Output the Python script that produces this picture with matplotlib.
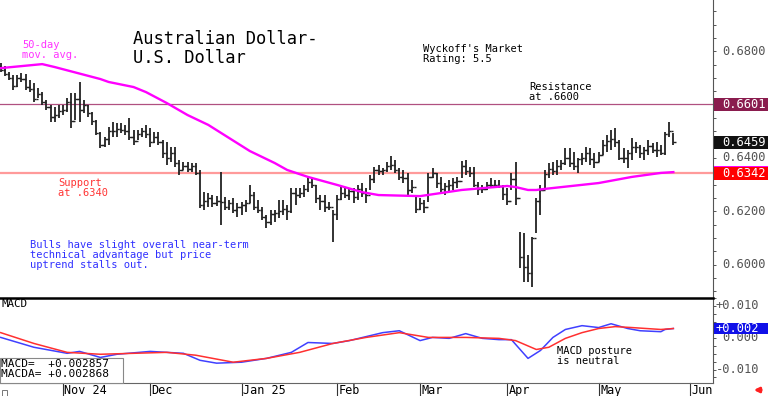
import numpy as np
import pandas as pd
import matplotlib
matplotlib.use("Agg")
import matplotlib.pyplot as plt
from matplotlib.patches import Rectangle
import matplotlib.transforms as mtransforms

# ---------------- data ----------------
start_date = "2024-10-11"
highs = [0.6756, 0.6745, 0.6722, 0.6711, 0.6711, 0.6719, 0.6715, 0.6692, 0.6681, 0.6662,
         0.6647, 0.6617, 0.6599, 0.6591, 0.6599, 0.6599, 0.6625, 0.6644, 0.6644, 0.6685,
         0.6617, 0.6599, 0.6572, 0.6542, 0.6497, 0.6479, 0.6516, 0.6535, 0.6531, 0.6531,
         0.6524, 0.6550, 0.6505, 0.6505, 0.6512, 0.6524, 0.6512, 0.6497, 0.6497, 0.6467,
         0.6460, 0.6441, 0.6441, 0.6392, 0.6385, 0.6385, 0.6381, 0.6381, 0.6355, 0.6272,
         0.6269, 0.6261, 0.6257, 0.6347, 0.6254, 0.6242, 0.6250, 0.6231, 0.6235, 0.6242,
         0.6299, 0.6272, 0.6242, 0.6216, 0.6186, 0.6205, 0.6205, 0.6242, 0.6242, 0.6224,
         0.6287, 0.6287, 0.6287, 0.6299, 0.6329, 0.6325, 0.6299, 0.6261, 0.6261, 0.6235,
         0.6205, 0.6261, 0.6291, 0.6287, 0.6287, 0.6287, 0.6299, 0.6306, 0.6287, 0.6336,
         0.6366, 0.6374, 0.6362, 0.6385, 0.6407, 0.6392, 0.6362, 0.6355, 0.6344, 0.6317,
         0.6254, 0.6250, 0.6242, 0.6344, 0.6362, 0.6344, 0.6329, 0.6306, 0.6317, 0.6325,
         0.6329, 0.6389, 0.6392, 0.6366, 0.6366, 0.6310, 0.6299, 0.6310, 0.6325, 0.6317,
         0.6317, 0.6299, 0.6287, 0.6344, 0.6385, 0.6122, 0.6119, 0.6036, 0.6104, 0.6250,
         0.6299, 0.6355, 0.6381, 0.6385, 0.6392, 0.6392, 0.6437, 0.6437, 0.6422, 0.6400,
         0.6419, 0.6441, 0.6437, 0.6419, 0.6422, 0.6467, 0.6486, 0.6505, 0.6512, 0.6467,
         0.6437, 0.6430, 0.6475, 0.6460, 0.6449, 0.6441, 0.6467, 0.6456, 0.6460, 0.6449,
         0.6497, 0.6535, 0.6494]
lows = [0.6722, 0.6707, 0.6692, 0.6655, 0.6666, 0.6685, 0.6655, 0.6647, 0.6610, 0.6625,
        0.6599, 0.6580, 0.6535, 0.6535, 0.6550, 0.6561, 0.6572, 0.6512, 0.6542, 0.6535,
        0.6569, 0.6554, 0.6524, 0.6486, 0.6437, 0.6441, 0.6449, 0.6479, 0.6479, 0.6494,
        0.6486, 0.6467, 0.6449, 0.6467, 0.6479, 0.6475, 0.6441, 0.6456, 0.6449, 0.6400,
        0.6374, 0.6385, 0.6366, 0.6336, 0.6355, 0.6347, 0.6347, 0.6336, 0.6212, 0.6205,
        0.6216, 0.6216, 0.6220, 0.6149, 0.6205, 0.6205, 0.6194, 0.6179, 0.6186, 0.6197,
        0.6231, 0.6205, 0.6194, 0.6167, 0.6137, 0.6149, 0.6160, 0.6175, 0.6186, 0.6167,
        0.6194, 0.6224, 0.6250, 0.6254, 0.6272, 0.6287, 0.6231, 0.6205, 0.6197, 0.6205,
        0.6085, 0.6167, 0.6242, 0.6250, 0.6242, 0.6231, 0.6242, 0.6254, 0.6231, 0.6280,
        0.6306, 0.6336, 0.6336, 0.6347, 0.6355, 0.6344, 0.6317, 0.6306, 0.6261, 0.6269,
        0.6194, 0.6205, 0.6194, 0.6235, 0.6325, 0.6287, 0.6269, 0.6261, 0.6272, 0.6280,
        0.6287, 0.6325, 0.6336, 0.6329, 0.6291, 0.6261, 0.6269, 0.6280, 0.6287, 0.6291,
        0.6287, 0.6242, 0.6224, 0.6280, 0.6224, 0.5987, 0.5935, 0.5935, 0.5916, 0.6119,
        0.6186, 0.6280, 0.6325, 0.6336, 0.6336, 0.6355, 0.6374, 0.6366, 0.6355, 0.6344,
        0.6374, 0.6385, 0.6374, 0.6362, 0.6385, 0.6411, 0.6422, 0.6430, 0.6441, 0.6392,
        0.6381, 0.6362, 0.6392, 0.6419, 0.6400, 0.6392, 0.6411, 0.6419, 0.6404, 0.6411,
        0.6411, 0.6479, 0.6449]
closes = [0.6730, 0.6715, 0.6700, 0.6670, 0.6700, 0.6695, 0.6665, 0.6660, 0.6620, 0.6640,
          0.6610, 0.6590, 0.6555, 0.6560, 0.6575, 0.6580, 0.6610, 0.6540, 0.6620, 0.6580,
          0.6600, 0.6570, 0.6540, 0.6495, 0.6450, 0.6470, 0.6500, 0.6500, 0.6510, 0.6505,
          0.6500, 0.6480, 0.6465, 0.6490, 0.6500, 0.6490, 0.6460, 0.6480, 0.6460, 0.6420,
          0.6400, 0.6420, 0.6380, 0.6355, 0.6370, 0.6360, 0.6370, 0.6345, 0.6225, 0.6240,
          0.6250, 0.6230, 0.6240, 0.6235, 0.6215, 0.6230, 0.6205, 0.6215, 0.6225, 0.6230,
          0.6260, 0.6215, 0.6205, 0.6180, 0.6160, 0.6190, 0.6195, 0.6200, 0.6210, 0.6200,
          0.6270, 0.6260, 0.6270, 0.6285, 0.6310, 0.6300, 0.6250, 0.6240, 0.6215, 0.6215,
          0.6190, 0.6245, 0.6270, 0.6260, 0.6275, 0.6255, 0.6285, 0.6270, 0.6260, 0.6320,
          0.6355, 0.6350, 0.6355, 0.6370, 0.6375, 0.6355, 0.6330, 0.6325, 0.6280, 0.6290,
          0.6210, 0.6230, 0.6215, 0.6330, 0.6345, 0.6305, 0.6285, 0.6295, 0.6300, 0.6310,
          0.6315, 0.6370, 0.6350, 0.6345, 0.6300, 0.6285, 0.6285, 0.6300, 0.6300, 0.6300,
          0.6295, 0.6265, 0.6240, 0.6320, 0.6250, 0.6030, 0.5990, 0.5970, 0.6100, 0.6240,
          0.6280, 0.6340, 0.6360, 0.6350, 0.6370, 0.6380, 0.6400, 0.6380, 0.6370, 0.6395,
          0.6400, 0.6420, 0.6395, 0.6385, 0.6410, 0.6450, 0.6465, 0.6470, 0.6460, 0.6400,
          0.6400, 0.6420, 0.6440, 0.6440, 0.6420, 0.6430, 0.6445, 0.6430, 0.6430, 0.6420,
          0.6490, 0.6500, 0.6459]
first_open = 0.6745

ma_dates = ["2024-10-11", "2024-10-25", "2024-10-30", "2024-11-14", "2024-11-18", "2024-11-26",
            "2024-11-29", "2024-12-06", "2024-12-13", "2024-12-20", "2024-12-27", "2025-01-03",
            "2025-01-13", "2025-01-16", "2025-01-23", "2025-02-03", "2025-02-11", "2025-02-17",
            "2025-03-03", "2025-03-17", "2025-04-01", "2025-04-03", "2025-04-08", "2025-04-10",
            "2025-04-14", "2025-05-01", "2025-05-13", "2025-05-22", "2025-05-27"]
ma_values = [0.6737, 0.6752, 0.6741, 0.6696, 0.6685, 0.6666, 0.6647, 0.6606, 0.6561, 0.6524,
             0.6475, 0.6426, 0.6381, 0.6355, 0.6329, 0.6299, 0.6272, 0.6261, 0.6257, 0.6280,
             0.6295, 0.6291, 0.6280, 0.6280, 0.6284, 0.6306, 0.6329, 0.6344, 0.6347]

macd_dates = ["2024-10-11", "2024-10-23", "2024-11-04", "2024-11-07", "2024-11-14", "2024-11-20",
              "2024-12-02", "2024-12-12", "2024-12-18", "2024-12-24", "2025-01-01", "2025-01-09",
              "2025-01-17", "2025-01-23", "2025-01-31", "2025-02-06", "2025-02-18", "2025-02-24",
              "2025-03-03", "2025-03-06", "2025-03-12", "2025-03-18", "2025-03-24", "2025-03-28",
              "2025-04-02", "2025-04-08", "2025-04-11", "2025-04-16", "2025-04-21", "2025-04-25",
              "2025-05-01", "2025-05-06", "2025-05-12", "2025-05-15", "2025-05-22", "2025-05-23",
              "2025-05-27"]
macd_values = [0.0001, -0.0030, -0.0049, -0.0043, -0.0062, -0.0052, -0.0043, -0.0049, -0.0071,
               -0.0080, -0.0077, -0.0065, -0.0046, -0.0015, -0.0018, -0.0009, 0.0016, 0.0022,
               -0.0009, 0.0001, -0.0002, 0.0013, -0.0002, -0.0006, -0.0006, -0.0065, -0.0040,
               0.0001, 0.0026, 0.0038, 0.0032, 0.0044, 0.0029, 0.0022, 0.0019, 0.0026, 0.0029]

signal_dates = ["2024-10-11", "2024-10-23", "2024-11-04", "2024-11-14", "2024-12-06", "2024-12-17",
                "2024-12-30", "2025-01-09", "2025-01-21", "2025-01-31", "2025-02-12", "2025-02-24",
                "2025-03-05", "2025-03-18", "2025-03-28", "2025-04-03", "2025-04-10", "2025-04-15",
                "2025-04-21", "2025-04-25", "2025-05-01", "2025-05-07", "2025-05-13", "2025-05-22",
                "2025-05-27"]
signal_values = [0.0016, -0.0018, -0.0046, -0.0052, -0.0046, -0.0055, -0.0077, -0.0065, -0.0046,
                 -0.0018, 0.0001, 0.0016, 0.0001, 0.0001, -0.0002, -0.0009, -0.0037, -0.0030,
                 -0.0002, 0.0016, 0.0029, 0.0035, 0.0032, 0.0026, 0.0029]

resistance = 0.6601
support = 0.6342
last_close_label = "0.6459"
macd_now, macda_now = "+0.002857", "+0.002868"

month_labels = ["Nov 24", "Dec", "Jan 25", "Feb", "Mar", "Apr", "May", "Jun"]
month_starts = ["2024-11-01", "2024-12-02", "2025-01-01", "2025-02-03", "2025-03-03",
                "2025-04-01", "2025-05-01", "2025-06-02"]
price_ticks = [0.6800, 0.6400, 0.6200, 0.6000]

# ---------------- positions ----------------
all_days = pd.bdate_range(start_date, "2025-06-30")
def pos(d):
    return all_days.get_loc(pd.Timestamp(d))

n = len(highs)
xi = np.arange(n)
H = np.array(highs); L = np.array(lows); C = np.array(closes)
O = np.concatenate([[first_open], C[:-1]])

MONO = "DejaVu Sans Mono"
W, Hpx = 768, 396
fig = plt.figure(figsize=(W / 100, Hpx / 100), dpi=100)
fig.patch.set_facecolor("white")

def fx(px):
    return px / W
def fy(py):
    return 1 - py / Hpx

ax = fig.add_axes([0, fy(297), fx(713), 297 / Hpx])
ax2 = fig.add_axes([0, fy(383), fx(713), (383 - 298) / Hpx])

xmin, xmax = -0.17, 171.55
ax.set_xlim(xmin, xmax)
ax2.set_xlim(xmin, xmax)
ax.set_ylim(0.58787, 0.69924)
ax2.set_ylim(-0.01424, 0.01219)

# price bars
ax.vlines(xi, L, H, color="#222222", lw=1.3, zorder=3)
ax.hlines(C, xi, xi + 0.55, color="#222222", lw=1.0, zorder=3)
ax.hlines(O, xi - 0.55, xi, color="#222222", lw=1.0, zorder=3)

# moving average
ma_x = [pos(d) for d in ma_dates]
ax.plot(ma_x, ma_values, color="#FF00FF", lw=1.7, zorder=4)

# resistance / support
ax.axhline(resistance, color="#B05080", lw=0.9, zorder=2)
ax.axhline(support, color="#FF9A9A", lw=1.6, zorder=2)

for a in (ax, ax2):
    a.set_facecolor("white")
    a.spines["left"].set_visible(False)
    a.spines["right"].set_color("#555555")
    a.spines["right"].set_linewidth(0.8)
    a.set_xticks([])
ax.spines["top"].set_visible(False)
ax.spines["bottom"].set_visible(False)
ax2.spines["top"].set_color("black")
ax2.spines["top"].set_linewidth(1.8)
ax2.spines["bottom"].set_color("#666666")
ax2.spines["bottom"].set_linewidth(0.8)

ax.yaxis.tick_right()
ax.set_yticks(np.arange(0.59, 0.70, 0.005))
ax.tick_params(axis="y", direction="out", length=2.5, width=0.7, color="#555555", labelright=False, labelleft=False)
ax2.yaxis.tick_right()
ax2.set_yticks(np.arange(-0.0125, 0.0126, 0.0025))
ax2.tick_params(axis="y", direction="out", length=2.5, width=0.7, color="#555555", labelright=False, labelleft=False)

# macd lines
ax2.plot([pos(d) for d in macd_dates], macd_values, color="#4040FF", lw=1.1, zorder=3)
ax2.plot([pos(d) for d in signal_dates], signal_values, color="#FF3030", lw=1.1, zorder=3)

# ---------------- right labels ----------------
bt = mtransforms.blended_transform_factory(fig.transFigure, ax.transData)
bt2 = mtransforms.blended_transform_factory(fig.transFigure, ax2.transData)
px_price = (0.69924 - 0.58787) / 297
px_macd = (0.01219 + 0.01424) / 85

for v in price_ticks:
    fig.text(fx(722), v, f"{v:.4f}", transform=bt, ha="left", va="center",
             fontsize=8.7, family=MONO, color="#555555")

def box(trans, val, text, fc, hpx, z):
    h = 13 * hpx
    fig.add_artist(Rectangle((fx(714), val - h / 2), fx(54), h, transform=trans,
                             facecolor=fc, edgecolor="none", zorder=z))
    fig.text(fx(722), val, text, transform=trans, ha="left", va="center",
             fontsize=8.7, family=MONO, color="white", zorder=z + 0.5)

box(bt, resistance, f"{resistance:.4f}", "#8A1C4E", px_price, 10)
box(bt, C[-1], last_close_label, "#111111", px_price, 10)
box(bt, ma_values[-1], f"{ma_values[-1]:.4f}", "#FF00FF", px_price, 10)
box(bt, support, f"{support:.4f}", "#FF0000", px_price, 12)

for v, s in [(0.01, "+0.010"), (0.0, "0.000"), (-0.01, "-0.010")]:
    fig.text(fx(716) if s[0] in "+-" else fx(722), v, s, transform=bt2, ha="left",
             va="center", fontsize=8.7, family=MONO, color="#555555")
fig.add_artist(Rectangle((fx(714), macd_values[-1] - 6 * px_macd), fx(54), 12 * px_macd,
                         transform=bt2, facecolor="#1010E8", edgecolor="none", zorder=10))
fig.text(fx(716), macd_values[-1], "+0.002", transform=bt2, ha="left", va="center",
         fontsize=8.7, family=MONO, color="white", zorder=11)

# ---------------- annotations ----------------
fig.text(fx(133), fy(30), "Australian Dollar-\nU.S. Dollar", ha="left", va="top",
         fontsize=12.3, family=MONO, color="black", linespacing=1.05)
fig.text(fx(22), fy(40), "50-day\nmov. avg.", ha="left", va="top",
         fontsize=7.5, family=MONO, color="#FF33FF", linespacing=1.03)
fig.text(fx(423), fy(44), "Wyckoff's Market\nRating: 5.5", ha="left", va="top",
         fontsize=7.5, family=MONO, color="black", linespacing=1.03)
fig.text(fx(529), fy(82), "Resistance\nat .6600", ha="left", va="top",
         fontsize=7.5, family=MONO, color="black", linespacing=1.0)
fig.text(fx(58), fy(178), "Support\nat .6340", ha="left", va="top",
         fontsize=7.5, family=MONO, color="#FF3333", linespacing=1.0)
fig.text(fx(30), fy(240), "Bulls have slight overall near-term\ntechnical advantage but price\nuptrend stalls out.",
         ha="left", va="top", fontsize=7.5, family=MONO, color="#3030FF", linespacing=1.03)
fig.text(fx(557), fy(346), "MACD posture\nis neutral", ha="left", va="top",
         fontsize=7.5, family=MONO, color="black", linespacing=1.0)
fig.text(fx(1), fy(299), "MACD", ha="left", va="top", fontsize=7.8, family=MONO, color="black")

fig.add_artist(Rectangle((fx(0), fy(383)), fx(123), (383 - 358) / Hpx, transform=fig.transFigure,
                         facecolor="white", edgecolor="#888888", lw=0.8, zorder=8))
fig.text(fx(1), fy(359), f"MACD=  {macd_now}\nMACDA= {macda_now}", ha="left", va="top",
         fontsize=8.0, family=MONO, color="black", linespacing=1.0, zorder=9)

# ---------------- date row ----------------
dt = mtransforms.blended_transform_factory(ax2.transData, fig.transFigure)
for lab, d in zip(month_labels, month_starts):
    p = pos(d)
    ax2.plot([p, p], [fy(383), fy(396)], transform=dt, color="#333333", lw=0.8, clip_on=False)
    ax2.text(p + 0.35, fy(390.5), lab, transform=dt, ha="left", va="center",
             fontsize=8.5, family=MONO, color="black", clip_on=False)

fig.add_artist(Rectangle((fx(2), fy(396)), fx(5), 6 / Hpx, transform=fig.transFigure,
                         facecolor="white", edgecolor="#777777", lw=0.7))
ax2.annotate("", xy=(751, 6), xytext=(764, 6), xycoords="figure pixels",
             textcoords="figure pixels",
             arrowprops=dict(arrowstyle="-|>", color="#FF2020", lw=2, mutation_scale=7))

fig.savefig("out.png", dpi=100, facecolor="white")
